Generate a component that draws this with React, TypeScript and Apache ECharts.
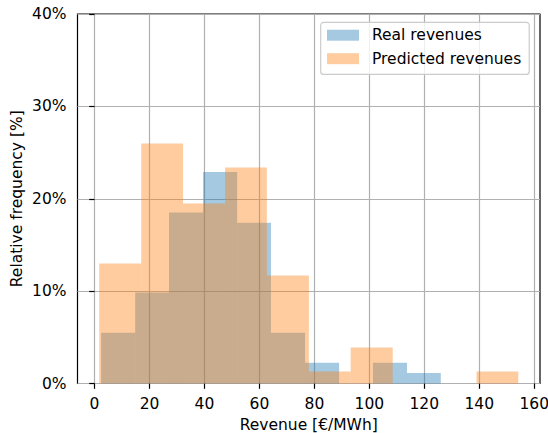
import React, { useEffect, useRef } from "react";
import * as echarts from "echarts";

// Histogram bin edges and relative frequencies (%) for both revenue series
const realEdges = [2.4, 14.8, 27.1, 39.5, 51.9, 64.2, 76.6, 89.0, 101.3, 113.7, 126.0];
const realFreq = [5.5, 9.85, 18.5, 22.9, 17.4, 5.5, 2.25, 0, 2.25, 1.15];
const predictedEdges = [1.7, 17.0, 32.2, 47.5, 62.7, 78.0, 93.2, 108.5, 123.7, 139.0, 154.2];
const predictedFreq = [12.99, 25.97, 19.48, 23.38, 11.69, 1.3, 3.9, 0, 0, 1.3];

// Axis ticks
const xTicks = [0, 20, 40, 60, 80, 100, 120, 140, 160];
const yTicks = [0, 10, 20, 30, 40];

const FONT = "DejaVu Sans";
const FONT_SIZE = 15.5;

function toBins(edges: number[], freq: number[]) {
  return freq.map((f, i) => [edges[i], edges[i + 1], f]);
}

// Each bin is a rectangle spanning [left edge, right edge] x [0, frequency]
const renderBin = (_params: any, api: any) => {
  const x0 = api.value(0);
  const x1 = api.value(1);
  const h = api.value(2);
  const topLeft = api.coord([x0, h]);
  const bottomRight = api.coord([x1, 0]);
  return {
    type: "rect",
    shape: {
      x: topLeft[0],
      y: topLeft[1],
      width: bottomRight[0] - topLeft[0],
      height: bottomRight[1] - topLeft[1],
    },
    style: { fill: api.visual("color") },
  };
};

export default function App() {
  const ref = useRef<HTMLDivElement>(null);

  useEffect(() => {
    if (!ref.current) return;
    const chart = echarts.init(ref.current, undefined, { renderer: "svg" });
    chart.setOption({
      animation: false,
      backgroundColor: "#ffffff",
      textStyle: { fontFamily: FONT },
      grid: {
        left: 77.5,
        right: 8,
        top: 14,
        bottom: 49.5,
        containLabel: false,
        outerBoundsMode: "none",
        show: true,
        borderColor: "#000000",
        borderWidth: 1.2,
        backgroundColor: "transparent",
      },
      legend: {
        orient: "vertical",
        left: 320.7,
        top: 22.3,
        icon: "rect",
        itemWidth: 32,
        itemHeight: 11,
        itemGap: 7.5,
        padding: [4.9, 8, 7.7, 6.3],
        backgroundColor: "rgba(255,255,255,0.8)",
        borderColor: "#cccccc",
        borderWidth: 1.2,
        borderRadius: 3,
        selectedMode: false,
        textStyle: {
          fontFamily: FONT,
          fontSize: FONT_SIZE,
          color: "#000000",
          lineHeight: FONT_SIZE,
          padding: [0, 0, 0, 8],
        },
        data: ["Real revenues", "Predicted revenues"],
      },
      xAxis: {
        type: "value",
        min: -6.2,
        max: 162.1,
        splitNumber: 8,
        minInterval: 20,
        maxInterval: 20,
        name: "Revenue [€/MWh]",
        nameLocation: "middle",
        nameGap: 33,
        nameMoveOverlap: false,
        nameTextStyle: { fontFamily: FONT, fontSize: FONT_SIZE, color: "#000000" },
        axisLine: { show: false },
        axisTick: {
          show: true,
          customValues: xTicks,
          length: 5.3,
          lineStyle: { color: "#000000", width: 1.2 },
        },
        axisLabel: {
          customValues: xTicks,
          margin: 12,
          fontFamily: FONT,
          fontSize: FONT_SIZE,
          color: "#000000",
        },
        splitLine: { show: true, lineStyle: { color: "#b0b0b0", width: 1.2 } },
      },
      yAxis: {
        type: "value",
        min: yTicks[0],
        max: yTicks[yTicks.length - 1],
        interval: 10,
        name: "Relative frequency [%]",
        nameLocation: "middle",
        nameGap: 53,
        nameMoveOverlap: false,
        nameTextStyle: { fontFamily: FONT, fontSize: FONT_SIZE, color: "#000000" },
        axisLine: { show: false },
        axisTick: {
          show: true,
          length: 5.3,
          lineStyle: { color: "#000000", width: 1.2 },
        },
        axisLabel: {
          margin: 11,
          fontFamily: FONT,
          fontSize: FONT_SIZE,
          color: "#000000",
          formatter: "{value}%",
        },
        splitLine: { show: true, lineStyle: { color: "#b0b0b0", width: 1.2 } },
      },
      series: [
        {
          name: "Real revenues",
          type: "custom",
          renderItem: renderBin,
          encode: { x: [0, 1], y: 2 },
          itemStyle: { color: "rgba(31,119,180,0.4)" },
          data: toBins(realEdges, realFreq),
          z: 2,
        },
        {
          name: "Predicted revenues",
          type: "custom",
          renderItem: renderBin,
          encode: { x: [0, 1], y: 2 },
          itemStyle: { color: "rgba(255,127,14,0.4)" },
          data: toBins(predictedEdges, predictedFreq),
          z: 3,
        },
      ],
    });
    return () => chart.dispose();
  }, []);

  return (
    <div
      ref={ref}
      style={{ position: "absolute", left: 0, top: 0, width: 548, height: 433 }}
    />
  );
}
